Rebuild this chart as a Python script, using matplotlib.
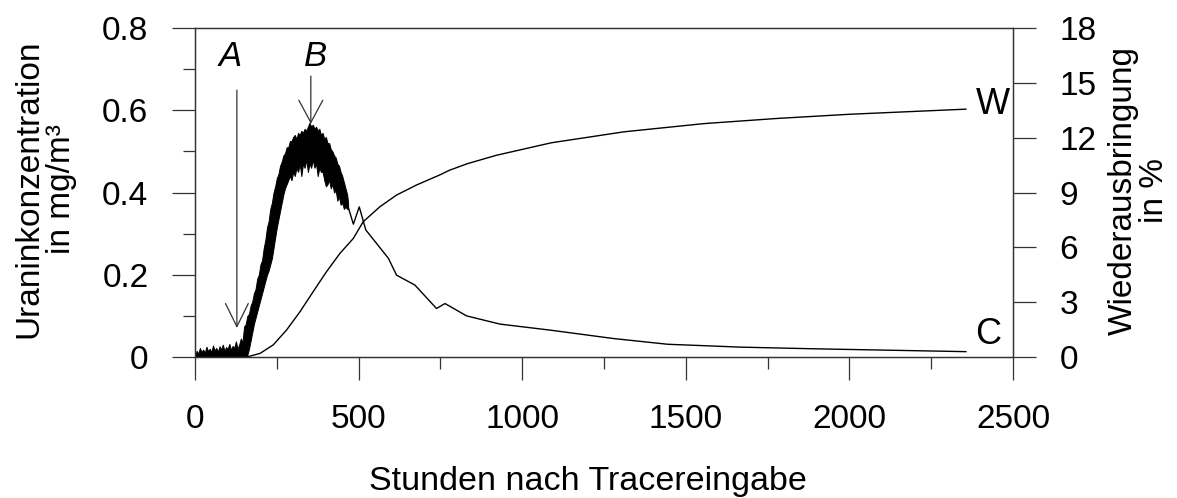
import matplotlib
matplotlib.use("Agg")
import matplotlib.pyplot as plt
from matplotlib.ticker import MultipleLocator

plt.rcParams['font.family'] = ['Liberation Sans', 'DejaVu Sans']

# Noisy concentration band (hours, lower / upper envelope in mg/m3)
band_hours = [0, 5, 10, 15, 20, 25, 30, 35, 40, 45, 50, 55, 60, 65, 70, 75, 80, 85, 90,
              95, 100, 105, 110, 115, 120, 125, 130, 135, 140, 145,
              150, 155, 160, 165, 170, 175, 180, 185, 190, 195, 200, 205, 210, 215, 220,
              225, 230, 235, 240, 245, 250, 255, 260, 265, 270, 275, 280, 285, 290,
              295, 300, 305, 310, 315, 320, 325, 330, 335, 340, 345, 350, 355, 360,
              365, 370, 375, 380, 385, 390, 395, 400, 405, 410, 415, 420, 425, 430,
              435, 440, 445, 450, 455, 460, 465, 468]
band_lower = [0] * 30 + [
    0.0, 0.0, 0.005, 0.02, 0.04, 0.06, 0.08, 0.095, 0.11, 0.125, 0.14, 0.155, 0.17,
    0.185, 0.2, 0.21, 0.225, 0.24, 0.265, 0.29, 0.315, 0.335, 0.355, 0.375, 0.395, 0.41,
    0.42, 0.43, 0.44, 0.43, 0.45,
    0.44, 0.46, 0.45, 0.47, 0.44, 0.47, 0.46, 0.48, 0.45, 0.47, 0.46, 0.48,
    0.46, 0.47, 0.44, 0.46, 0.45, 0.45, 0.43, 0.415, 0.42, 0.43, 0.41, 0.42, 0.40, 0.405,
    0.38, 0.39, 0.37, 0.375, 0.36, 0.365, 0.36, 0.36]
band_upper = [0.004, 0.015, 0.008, 0.022, 0.012, 0.018, 0.010, 0.025, 0.014, 0.020,
              0.012, 0.028, 0.016, 0.022, 0.013, 0.026, 0.018, 0.030, 0.015, 0.024,
              0.020, 0.032, 0.017, 0.027, 0.022, 0.038, 0.020, 0.030, 0.045, 0.035,
              0.074, 0.08, 0.10, 0.105, 0.125, 0.135, 0.155, 0.165, 0.19, 0.20, 0.225,
              0.235, 0.265, 0.285, 0.315, 0.33, 0.36, 0.375, 0.40, 0.415, 0.435, 0.445,
              0.465, 0.475, 0.49, 0.495, 0.51, 0.51, 0.525, 0.525, 0.535,
              0.54, 0.53, 0.545, 0.54, 0.55, 0.545,
              0.555, 0.55, 0.56, 0.57, 0.56, 0.565, 0.555, 0.56, 0.55, 0.555, 0.54, 0.545,
              0.53, 0.535, 0.52, 0.52, 0.505, 0.50, 0.49, 0.485, 0.47, 0.465, 0.45, 0.44,
              0.425, 0.41, 0.395, 0.375]

# Concentration tail C (hours, mg/m3)
c_hours = [468, 484, 502, 522, 591, 616, 672, 738, 764, 830, 932, 1089, 1278, 1444,
           1667, 1889, 2356]
c_values = [0.365, 0.323, 0.365, 0.309, 0.240, 0.199, 0.175, 0.118, 0.130, 0.100,
            0.080, 0.065, 0.045, 0.031, 0.024, 0.020, 0.013]

# Recovery W (hours, %)
w_hours = [158, 199, 239, 280, 321, 361, 402, 443, 484, 514, 565, 616, 677, 748,
           778, 833, 922, 1089, 1311, 1556, 1778, 2000, 2356]
w_values = [0.0, 0.2, 0.66, 1.48, 2.48, 3.57, 4.67, 5.67, 6.49, 7.40, 8.22, 8.86,
            9.41, 9.96, 10.22, 10.58, 11.04, 11.72, 12.32, 12.77, 13.05, 13.28, 13.56]

x_ticks = [0, 500, 1000, 1500, 2000, 2500]
left_ticks = [0, 0.2, 0.4, 0.6, 0.8]
left_tick_labels = ["0", "0.2", "0.4", "0.6", "0.8"]
right_ticks = [0, 3, 6, 9, 12, 15, 18]

W, H = 1177, 498
fig = plt.figure(figsize=(W / 100, H / 100), dpi=100)
ax = fig.add_axes([195 / W, (H - 357) / H, (1013 - 195) / W, 329 / H])
ax2 = ax.twinx()

edge = '#333333'
ax.fill_between(band_hours, band_lower, band_upper, color='black', lw=0.7,
                edgecolor='black')
ax.plot(c_hours, c_values, color='black', lw=1.0)
ax2.plot(w_hours, w_values, color='black', lw=1.0)

ax.set_xlim(0, 2500)
ax.set_ylim(0, 0.8)
ax2.set_ylim(0, 18)
ax.set_xticks(x_ticks)
ax.set_xticklabels([str(t) for t in x_ticks])
ax.set_yticks(left_ticks)
ax.set_yticklabels(left_tick_labels)
ax.xaxis.set_minor_locator(MultipleLocator(250))
ax.yaxis.set_minor_locator(MultipleLocator(0.1))
ax2.set_yticks(right_ticks)
ax2.set_yticklabels([str(t) for t in right_ticks])

for a in (ax, ax2):
    for s in a.spines.values():
        s.set_color(edge)
        s.set_linewidth(0.9)
    a.tick_params(which='major', direction='out', length=16.5, width=0.9,
                  color=edge, labelsize=24, pad=17)
    a.tick_params(which='minor', direction='out', length=8.6, width=0.9, color=edge)

# Arrows A and B
ax.annotate('', xy=(128, 0.0705), xytext=(128, 0.649),
            arrowprops=dict(arrowstyle='->,head_length=0.83,head_width=0.41',
                            color=edge, lw=0.9, mutation_scale=20,
                            shrinkA=0, shrinkB=0))
ax.annotate('', xy=(354, 0.567), xytext=(354, 0.683),
            arrowprops=dict(arrowstyle='->,head_length=0.8,head_width=0.43',
                            color=edge, lw=0.9, mutation_scale=20,
                            shrinkA=0, shrinkB=0))
ax.text(107, 0.730, 'A', fontsize=25, style='italic', ha='center', va='center')
ax.text(367, 0.730, 'B', fontsize=25, style='italic', ha='center', va='center')

ax.text(2385, 0.0535, 'C', fontsize=26, ha='left', va='center')
ax2.text(2385, 13.8, 'W', fontsize=26, ha='left', va='center')

fig.text(45 / W, 1 - 189 / H, "Uraninkonzentration\nin mg/m³", rotation=90,
         ha='center', va='center', fontsize=24, multialignment='center',
         linespacing=1.05)
fig.text(1139 / W, 1 - 190 / H, "Wiederausbringung\nin %", rotation=90,
         ha='center', va='center', fontsize=24, multialignment='center',
         linespacing=1.0)
fig.text(588 / W, 1 - 481 / H, "Stunden nach Tracereingabe", ha='center',
         va='center', fontsize=24.5)

fig.savefig('out.png', dpi=100)
